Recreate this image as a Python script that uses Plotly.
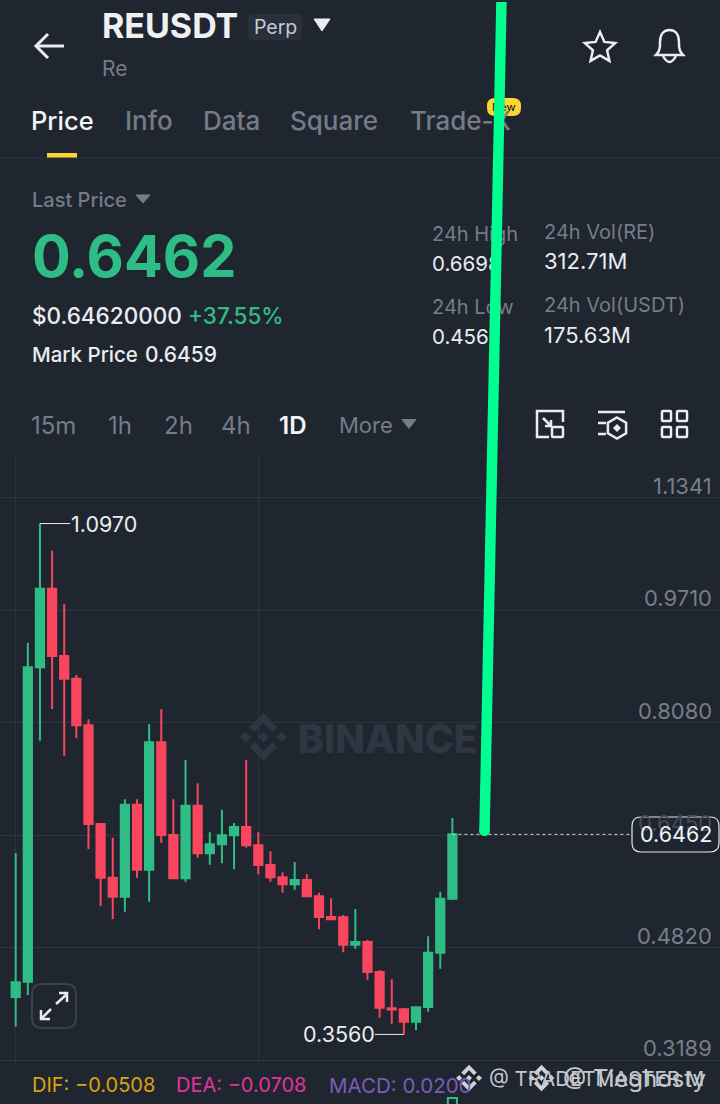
import math
import plotly.graph_objects as go

BG = "#1f2630"
GRID = "#2d343f"
GREEN = "#2ebd85"
RED = "#f9465f"
WHITE = "#eaecef"
GREY = "#757c87"
AXIS_GREY = "#777e89"
FONT = "Inter"

# daily candles
days = list(range(37))
opens = [0.4103, 0.4325, 0.8885, 1.0025, 0.9049, 0.8720, 0.8044, 0.6612, 0.5834, 0.5558,
         0.6892, 0.5950, 0.7797, 0.6453, 0.5825, 0.6878, 0.6187, 0.6318, 0.6449, 0.6569,
         0.6303, 0.6018, 0.5839, 0.5738, 0.5800, 0.5564, 0.5263, 0.5259, 0.4862, 0.4901,
         0.4466, 0.3940, 0.3925, 0.3745, 0.3958, 0.4746, 0.5529]
highs = [0.6192, 0.9242, 1.0970, 1.0577, 0.9799, 0.8774, 0.8131, 0.6612, 0.6414, 0.6971,
         0.6971, 0.8063, 0.8276, 0.6971, 0.7541, 0.7203, 0.6492, 0.6820, 0.6627, 0.7541,
         0.6492, 0.6216, 0.5912, 0.6061, 0.5883, 0.5616, 0.5535, 0.5292, 0.5379, 0.4930,
         0.4495, 0.4360, 0.3945, 0.3960, 0.4983, 0.5630, 0.6698]
lows = [0.3672, 0.4132, 0.7821, 0.8281, 0.7603, 0.7856, 0.6250, 0.5423, 0.5234, 0.5340,
        0.5834, 0.5485, 0.6341, 0.5815, 0.5775, 0.6124, 0.6022, 0.6042, 0.5955, 0.6269,
        0.5883, 0.5775, 0.5616, 0.5659, 0.5549, 0.5085, 0.5220, 0.4751, 0.4804, 0.4354,
        0.3803, 0.3716, 0.3560, 0.3624, 0.3890, 0.4514, 0.5510]
closes = [0.4316, 0.8885, 1.0025, 0.9049, 0.8720, 0.8044, 0.6612, 0.5834, 0.5558, 0.6892,
          0.5950, 0.7797, 0.6453, 0.5825, 0.6878, 0.6187, 0.6318, 0.6449, 0.6569, 0.6303,
          0.6018, 0.5839, 0.5738, 0.5800, 0.5564, 0.5263, 0.5230, 0.4862, 0.4901, 0.4466,
          0.3948, 0.3922, 0.3745, 0.3954, 0.4746, 0.5529, 0.6462]
price_ticks = [1.1341, 0.9710, 0.8080, 0.6450, 0.4820, 0.3189]
last_price = 0.6462
high_mark = 1.0970
low_mark = 0.3560
macd_day = [36]
macd_hist = [0.0200]


def px(x):
    return x / 720


def py(y):
    return 1 - y / 1104


annotations = []
shapes = []


def label(x, y, text, size=20, color=WHITE, anchor="left", weight=400):
    # annotation boxes carry about 2px of padding
    if anchor == "left":
        x -= 2
    elif anchor == "right":
        x += 2
    annotations.append(dict(x=px(x), y=py(y), xref="paper", yref="paper", text=text,
                            showarrow=False, xanchor=anchor, yanchor="middle",
                            font=dict(family=FONT, size=size, color=color, weight=weight)))


def path(d, color=WHITE, width=3, fill=None):
    shapes.append(dict(type="path", path=d, xref="paper", yref="paper", layer="above",
                       line=dict(color=color, width=width),
                       fillcolor=fill if fill else "rgba(0,0,0,0)"))


def to_paper(points):
    return "M " + " L ".join(f"{px(a):.5f} {py(b):.5f}" for a, b in points)


def poly(points, color=WHITE, width=3, fill=None, close=False):
    path(to_paper(points) + (" Z" if close else ""), color, width, fill)


def round_rect(x0, y0, x1, y1, r, color, width=1.5, fill=None):
    p = (f"M {px(x0 + r)} {py(y0)} L {px(x1 - r)} {py(y0)} Q {px(x1)} {py(y0)} {px(x1)} {py(y0 + r)} "
         f"L {px(x1)} {py(y1 - r)} Q {px(x1)} {py(y1)} {px(x1 - r)} {py(y1)} "
         f"L {px(x0 + r)} {py(y1)} Q {px(x0)} {py(y1)} {px(x0)} {py(y1 - r)} "
         f"L {px(x0)} {py(y0 + r)} Q {px(x0)} {py(y0)} {px(x0 + r)} {py(y0)} Z")
    path(p, color, width, fill)


def triangle(cx, cy, w, h, color):
    poly([(cx - w / 2, cy - h / 2), (cx + w / 2, cy - h / 2), (cx, cy + h / 2)], color, 1, color, True)


def logo(cx, cy, s, color):
    for dx in (0, -18, 18):
        poly([(cx + dx * s, cy - 5.5 * s), (cx + dx * s + 5.5 * s, cy), (cx + dx * s, cy + 5.5 * s),
              (cx + dx * s - 5.5 * s, cy)], color, 0, color, True)
    for sign in (1, -1):
        poly([(cx, cy - sign * 24 * s), (cx + 14 * s, cy - sign * 10 * s), (cx + 9 * s, cy - sign * 5 * s),
              (cx, cy - sign * 14 * s), (cx - 9 * s, cy - sign * 5 * s), (cx - 14 * s, cy - sign * 10 * s)],
             color, 0, color, True)


# header
poly([(64, 46), (36, 46)])
poly([(48, 34), (36, 46), (48, 58)])
label(102, 26, "REUSDT", 34, "#eef0f3", weight=700)
round_rect(248, 14, 302, 40, 4, "#2a303b", 0, "#2a303b")
label(254, 27, "Perp", 19.5, "#c6cad0")
triangle(322, 25, 16, 12, WHITE)
label(102, 68, "Re", 21, GREY)

star = []
for k in range(10):
    r = 16 if k % 2 == 0 else 7.5
    a = math.radians(-90 + 36 * k)
    star.append((600 + r * math.cos(a), 48 + r * math.sin(a)))
poly(star, width=2.5, close=True)
path(f"M {px(656)} {py(55)} C {px(661)} {py(50)} {px(660)} {py(46)} {px(660)} {py(42)} "
     f"C {px(660)} {py(34)} {px(664)} {py(30)} {px(669.5)} {py(30)} "
     f"C {px(675)} {py(30)} {px(679)} {py(34)} {px(679)} {py(42)} "
     f"C {px(679)} {py(46)} {px(678)} {py(50)} {px(683)} {py(55)} Z", width=2.5)
path(f"M {px(663)} {py(56)} Q {px(669.5)} {py(68)} {px(676)} {py(56)}", width=2.5)

# tabs
for x, text, color, size in [(31, "Price", "#f4f5f7", 25.5), (125, "Info", GREY, 26), (203, "Data", GREY, 26),
                             (290, "Square", GREY, 26), (410, "Trade-X", GREY, 26)]:
    label(x, 121, text, size, color, weight=500)
round_rect(487, 98, 521, 116, 8, "#fcd535", 0, "#fcd535")
label(504, 107, "New", 11, "#2a2a20", "center", 500)
poly([(47, 155.5), (77, 155.5)], "#fcd535", 5)
poly([(0, 158), (720, 158)], "#2b323d", 1)

# price block
label(32, 200, "Last Price", 20, GREY, weight=500)
triangle(143, 199, 14, 8, GREY)
label(32, 256, "0.6462", 57.5, GREEN, weight=700)
label(32, 316, "$0.64620000", 22.5, WHITE, weight=500)
label(188, 316, "+37.55%", 22.5, GREEN, weight=500)
label(32, 355, "Mark Price", 20.5, WHITE, weight=500)
label(145, 355, "0.6459", 21, WHITE, weight=500)

for x, y, text, color, size in [(432, 234, "24h High", GREY, 20), (432, 263, "0.6698", WHITE, 20.5),
                                (432, 307, "24h Low", GREY, 20), (432, 337, "0.4567", WHITE, 20.5),
                                (544, 232, "24h Vol(RE)", GREY, 20), (544, 261, "312.71M", WHITE, 22),
                                (544, 305, "24h Vol(USDT)", GREY, 20), (544, 335, "175.63M", WHITE, 22)]:
    label(x, y, text, size, color)

# intervals
for x, text, size in [(31, "15m", 24), (108, "1h", 24), (164, "2h", 24), (221, "4h", 24), (339, "More", 22)]:
    label(x, 425, text, size, GREY)
label(279, 425, "1D", 24, "#f4f5f7", weight=600)
triangle(409, 424, 14, 9, GREY)

poly([(549, 437), (537, 437), (537, 411), (563, 411), (563, 422)], width=2.5)
round_rect(552, 427, 563, 437, 1, WHITE, 2.5)
poly([(543, 418), (551, 426)], width=2.5)
poly([(551, 420), (551, 426), (545, 426)], width=2.5)

poly([(598, 412), (625, 412)], width=2.5)
poly([(598, 423), (606, 423)], width=2.5)
poly([(598, 434), (606, 434)], width=2.5)
hexagon = [(617 + 10.5 * math.sin(math.radians(60 * k)), 428 - 10.5 * math.cos(math.radians(60 * k))) for k in range(6)]
poly(hexagon, width=2.5, close=True)
poly([(617, 424), (621, 428), (617, 432), (613, 428)], width=0, fill=WHITE, close=True)

for x0, x1 in [(662, 671), (677, 687)]:
    for y0, y1 in [(411, 421), (427, 437)]:
        round_rect(x0, y0, x1, y1, 1, WHITE, 2.5)

poly([(0, 456), (720, 456)], "#2b323d", 1)

# watermark behind the chart
logo(263.5, 737, 1, "#2f3641")
label(298, 738, "BINANCE", 39, "#2f3641", weight=800)

# axis labels
for p in price_ticks:
    annotations.append(dict(x=px(714), y=p, xref="paper", yref="y", text=f"{p:.4f}", showarrow=False,
                            xanchor="right", yanchor="middle", yshift=12,
                            font=dict(family=FONT, size=22, color="#454c57" if p == 0.6450 else AXIS_GREY)))
label(710, 1112, "0.0000", 22, AXIS_GREY, "right")

# high / low marks
annotations.append(dict(x=4.4, y=high_mark, xref="x", yref="y", text=f"{high_mark:.4f}", showarrow=False,
                        xanchor="left", yanchor="middle", font=dict(family=FONT, size=21.5, color=WHITE)))
annotations.append(dict(x=29.8, y=low_mark, xref="x", yref="y", text=f"{low_mark:.4f}", showarrow=False,
                        xanchor="right", yanchor="middle", font=dict(family=FONT, size=21.5, color=WHITE)))

# last price badge
round_rect(632, 817, 719, 852, 9, "#e6e8ea", 1.2, "rgba(31,38,48,0.75)")
annotations.append(dict(x=px(675.5), y=last_price, xref="paper", yref="y", text=f"{last_price:.4f}",
                        showarrow=False, xanchor="center", yanchor="middle",
                        font=dict(family=FONT, size=21.5, color="#f4f5f7")))

# expand button
round_rect(32, 984, 76, 1028, 10, "#3a414c", 2)
poly([(56, 1004), (67, 994)], width=2.5)
poly([(59, 993), (67, 993), (67, 1002)], width=2.5)
poly([(51, 1009), (41, 1019)], width=2.5)
poly([(41, 1010), (41, 1019), (50, 1019)], width=2.5)

# macd legend
label(32, 1085, "DIF: \u22120.0508", 20, "#dca30f")
label(176, 1085, "DEA: \u22120.0708", 20, "#e0349c")
label(329, 1085, "MACD: 0.0200", 20.5, "#7a5db5")

# the two stamped watermarks
logo(469, 1078, 0.55, "#cfd2d6")
label(489, 1078, "@ TRADETMASTER M", 20.5, "#c4c7cc")
logo(541.5, 1078, 0.55, "#cfd2d6")
label(563, 1078, "@ Tieghosty", 24, "#c4c7cc")

# the hand drawn green stroke, has to sit on top of the texts
shapes.append(dict(type="circle", xref="paper", yref="paper", layer="above", fillcolor="#00ff90", line_width=0,
                   x0=px(479), x1=px(490), y0=py(825), y1=py(836)))
annotations.append(dict(x=px(484.5), y=py(830), xref="paper", yref="paper", text=" ", font=dict(size=1),
                        showarrow=True, arrowhead=0, arrowwidth=10.5, arrowcolor="#00ff90",
                        ax=17, ay=-840, standoff=0, startstandoff=0))

fig = go.Figure()

fig.add_trace(go.Scatter(x=[days[-1], 50.8], y=[last_price, last_price], mode="lines",
                         line=dict(color="#d8dade", width=1, dash="3px,3px"), hoverinfo="skip"))
fig.add_trace(go.Scatter(x=[days[2], 4.5], y=[high_mark, high_mark], mode="lines",
                         line=dict(color=WHITE, width=1), hoverinfo="skip"))
fig.add_trace(go.Scatter(x=[days[32], 29.6], y=[low_mark, low_mark], mode="lines",
                         line=dict(color=WHITE, width=1), hoverinfo="skip"))
fig.add_trace(go.Candlestick(x=days, open=opens, high=highs, low=lows, close=closes, whiskerwidth=0,
                             increasing=dict(line=dict(color=GREEN, width=2), fillcolor=GREEN),
                             decreasing=dict(line=dict(color=RED, width=2), fillcolor=RED)))
fig.add_trace(go.Bar(x=macd_day, y=macd_hist, xaxis="x2", yaxis="y2", width=0.75,
                     marker=dict(color="rgba(0,0,0,0)", line=dict(color=GREEN, width=2))))

fig.update_layout(
    width=720, height=1104, margin=dict(l=0, r=0, t=0, b=0),
    paper_bgcolor=BG, plot_bgcolor=BG, showlegend=False, boxgap=0.2, boxgroupgap=0.15,
    shapes=shapes, annotations=annotations, font=dict(family=FONT),
    xaxis=dict(type="linear", domain=[0, 1], range=[-1.294, 58.06], tickvals=[0, 20], showticklabels=False,
               showgrid=True, gridcolor=GRID, gridwidth=1, zeroline=False, ticks="", rangeslider=dict(visible=False),
               anchor="y"),
    yaxis=dict(domain=[1 - 1062 / 1104, 1 - 456 / 1104], range=[0.3160, 1.1950], tickvals=price_ticks,
               showticklabels=False, showgrid=True, gridcolor=GRID, gridwidth=1, zeroline=False, ticks="",
               anchor="x"),
    xaxis2=dict(type="linear", domain=[0, 1], range=[-1.294, 58.06], visible=False, anchor="y2"),
    yaxis2=dict(domain=[0, 1 - 1062 / 1104], range=[0.01, 0.08], visible=False, anchor="x2"),
)

fig.write_html("out.html", config={"displayModeBar": False},
               post_script="document.body.style.margin='0';document.body.style.overflow='hidden';")
